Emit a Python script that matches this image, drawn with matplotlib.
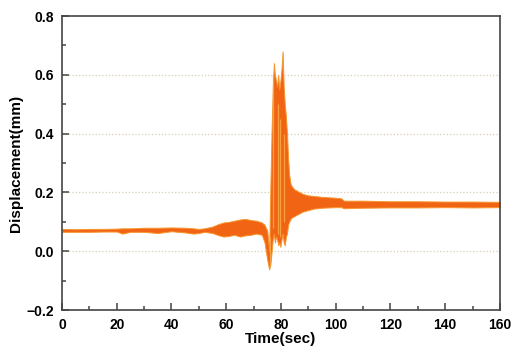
import numpy as np
import matplotlib
matplotlib.use('Agg')
import matplotlib.pyplot as plt
from matplotlib.ticker import MultipleLocator

# envelope of the displacement record
time = [0, 5, 10, 15, 20, 22, 25, 30, 35, 40, 45, 48, 50, 52, 55, 57, 59, 61, 63, 65,
        67, 69, 71, 73, 74, 75, 75.7, 76.2, 76.6, 77.0, 77.4, 77.8, 78.2, 78.6, 79.0,
        79.4, 79.8, 80.2, 80.6, 81.0, 81.4, 81.8, 82.2, 82.6, 83.0, 83.5, 84, 85, 86,
        87, 88, 90, 92, 95, 100, 102, 103, 105, 110, 120, 130, 140, 150, 160]
disp_low = [0.066, 0.066, 0.066, 0.067, 0.067, 0.060, 0.066, 0.066, 0.062, 0.068,
            0.064, 0.060, 0.062, 0.066, 0.062, 0.055, 0.050, 0.052, 0.056, 0.050,
            0.054, 0.056, 0.060, 0.056, 0.030, -0.030, -0.062, -0.040, 0.000, 0.040,
            0.060, 0.030, 0.050, 0.040, 0.020, 0.030, 0.015, 0.040, 0.060, 0.030,
            0.020, 0.050, 0.060, 0.090, 0.100, 0.110, 0.115, 0.120, 0.125, 0.130,
            0.135, 0.140, 0.145, 0.148, 0.150, 0.150, 0.146, 0.147, 0.148, 0.149,
            0.149, 0.150, 0.149, 0.150]
disp_high = [0.076, 0.075, 0.076, 0.076, 0.077, 0.078, 0.078, 0.080, 0.080, 0.081,
             0.080, 0.078, 0.076, 0.078, 0.084, 0.092, 0.098, 0.100, 0.104, 0.108,
             0.110, 0.106, 0.104, 0.098, 0.090, 0.070, 0.000, 0.250, 0.420, 0.550,
             0.640, 0.600, 0.580, 0.560, 0.600, 0.550, 0.580, 0.620, 0.680, 0.560,
             0.500, 0.460, 0.400, 0.320, 0.260, 0.230, 0.220, 0.210, 0.205, 0.200,
             0.195, 0.190, 0.188, 0.185, 0.182, 0.180, 0.172, 0.172, 0.172, 0.170,
             0.170, 0.169, 0.169, 0.168]

# lighter streaks inside the burst
streak_t = [75.9, 77.2, 78.9, 79.7, 81.2]
streak_lo = [-0.05, 0.08, 0.06, 0.05, 0.10]
streak_hi = [0.05, 0.60, 0.50, 0.45, 0.40]

fig = plt.figure(figsize=(5.14, 3.48), dpi=100)
ax = fig.add_axes([0.1206, 0.109, 0.852, 0.845])

ax.fill_between(time, disp_low, disp_high, color='#f06414', lw=0.7, edgecolor='#f7962e')
ax.vlines(streak_t, streak_lo, streak_hi, color='#f8a040', lw=0.9)

for y in [0.0, 0.2, 0.4, 0.6]:
    ax.axhline(y, color='#d8cfb8', lw=0.9, ls=':', zorder=0)

ax.set_xlim(0, 160)
ax.set_ylim(-0.2, 0.8)
ax.xaxis.set_major_locator(MultipleLocator(20))
ax.xaxis.set_minor_locator(MultipleLocator(10))
ax.yaxis.set_major_locator(MultipleLocator(0.2))
ax.yaxis.set_minor_locator(MultipleLocator(0.1))
ax.tick_params(which='both', direction='in', top=False, right=False, width=1.1, color='#444444')
ax.tick_params(which='major', length=5, labelsize=10, pad=6)
ax.tick_params(which='minor', length=3)
for lab in ax.get_xticklabels() + ax.get_yticklabels():
    lab.set_fontweight('bold')
    lab.set_family('Liberation Sans')
for s in ax.spines.values():
    s.set_linewidth(1.2)
    s.set_color('#444444')

ax.set_xlabel('Time(sec)', fontsize=11, fontweight='bold', family='Liberation Sans', labelpad=0)
ax.set_ylabel('Displacement(mm)', fontsize=11, fontweight='bold', family='Liberation Sans', labelpad=2)

fig.savefig('out.png', dpi=100)
